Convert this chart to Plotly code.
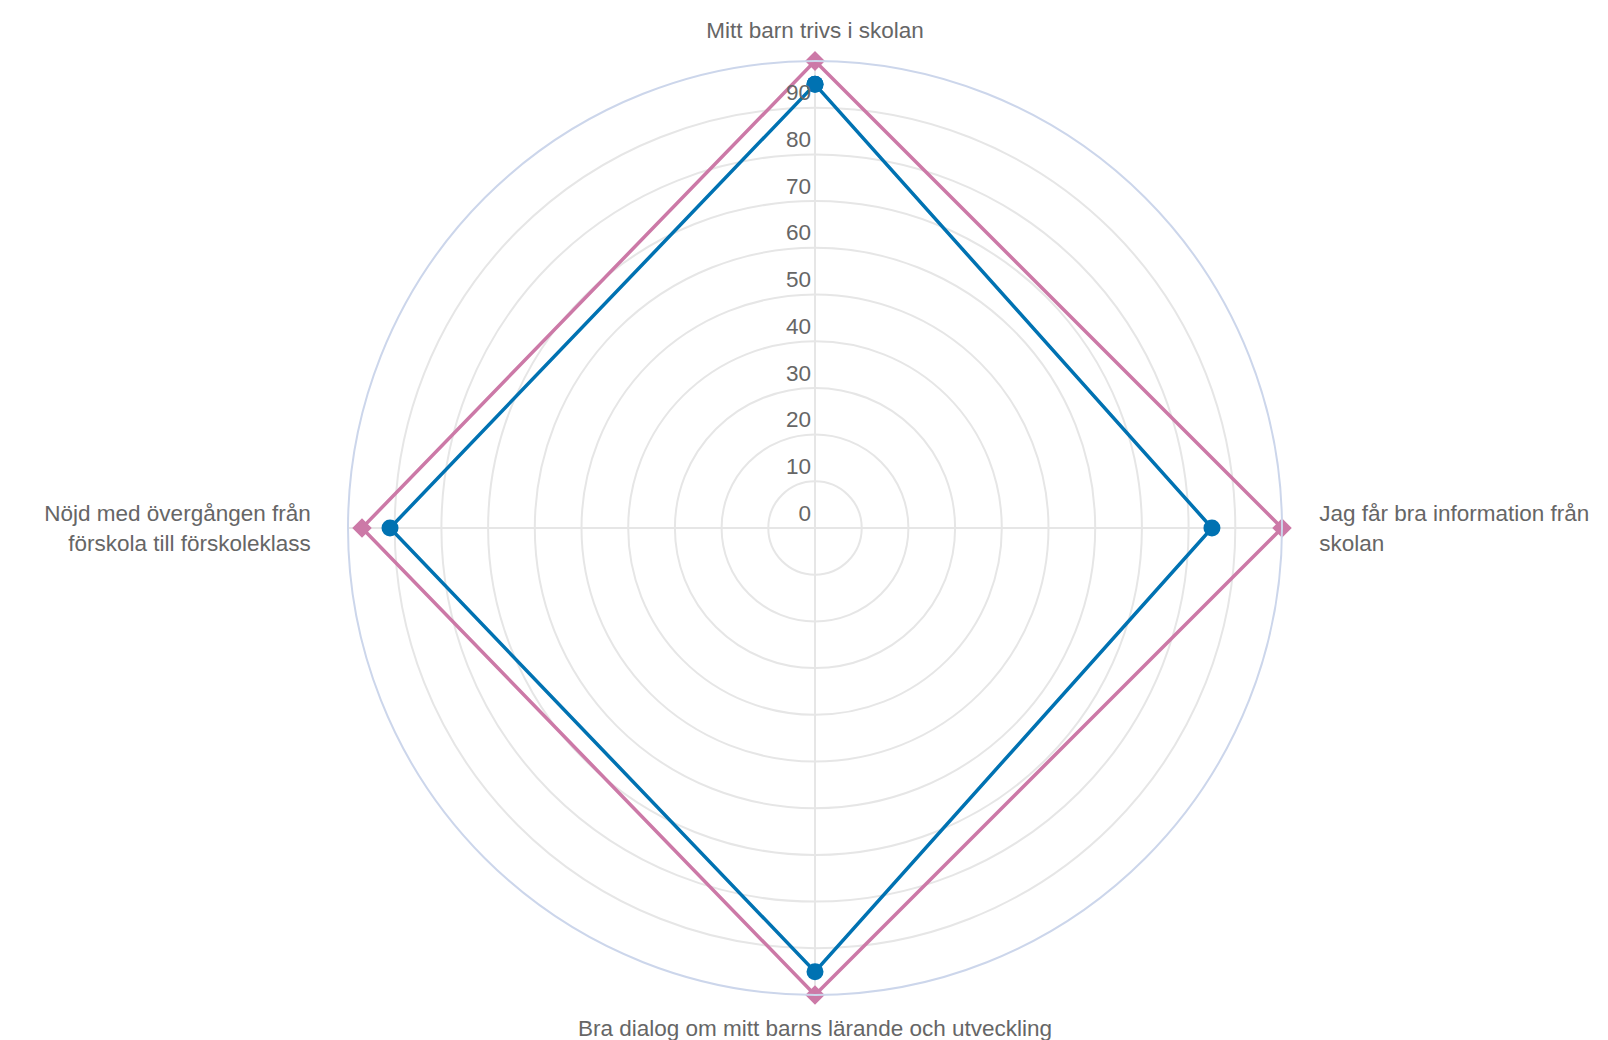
import plotly.graph_objects as go

NB = "\u00a0\u00a0\u00a0"
categories = [
    "Mitt barn trivs i skolan",
    NB + "Jag får bra information från<br>" + NB + "skolan",
    "Bra dialog om mitt barns lärande och utveckling",
    "Nöjd med övergången från" + NB + "<br>förskola till förskoleklass" + NB,
]
series_a = [95, 85, 95, 91]     # blue, circles
series_b = [100, 100, 100, 97]  # pink, diamonds
radial_ticks = [0, 10, 20, 30, 40, 50, 60, 70, 80, 90]

W, H = 1608, 1040
FONT = "Liberation Sans, Arial, sans-serif"

fig = go.Figure()
fig.add_trace(go.Scatterpolar(
    r=series_a + series_a[:1], theta=categories + categories[:1],
    mode="lines+markers",
    line=dict(color="#0072B2", width=3.5),
    marker=dict(symbol="circle", size=17, color="#0072B2"),
    name="A",
))
fig.add_trace(go.Scatterpolar(
    r=series_b + series_b[:1], theta=categories + categories[:1],
    mode="lines+markers",
    line=dict(color="#CC79A7", width=3.5),
    marker=dict(symbol="diamond", size=15, color="#CC79A7"),
    name="B",
))

fig.update_layout(
    width=W, height=H,
    margin=dict(l=0, r=0, t=0, b=0),
    paper_bgcolor="white",
    showlegend=False,
    font=dict(family=FONT, size=22.5, color="#666666"),
    polar=dict(
        domain=dict(x=[340 / W, 1274 / W], y=[1 - 987 / H, 1 - 53 / H]),
        bgcolor="white",
        radialaxis=dict(
            range=[0, 100],
            tickvals=radial_ticks,
            ticktext=[f"{v}<br> " for v in radial_ticks],
            angle=90,
            side="counterclockwise",
            tickangle=90,
            showline=False,
            ticks="",
            gridcolor="#e6e6e6",
            gridwidth=1.5,
            tickfont=dict(size=22.5, color="#666666"),
        ),
        angularaxis=dict(
            direction="clockwise",
            rotation=90,
            linecolor="#ccd6eb",
            linewidth=2,
            gridcolor="#e6e6e6",
            gridwidth=1.5,
            ticks="outside",
            ticklen=13,
            tickcolor="rgba(0,0,0,0)",
            tickfont=dict(size=22.5, color="#666666"),
        ),
    ),
)

fig.write_html("out.html")
